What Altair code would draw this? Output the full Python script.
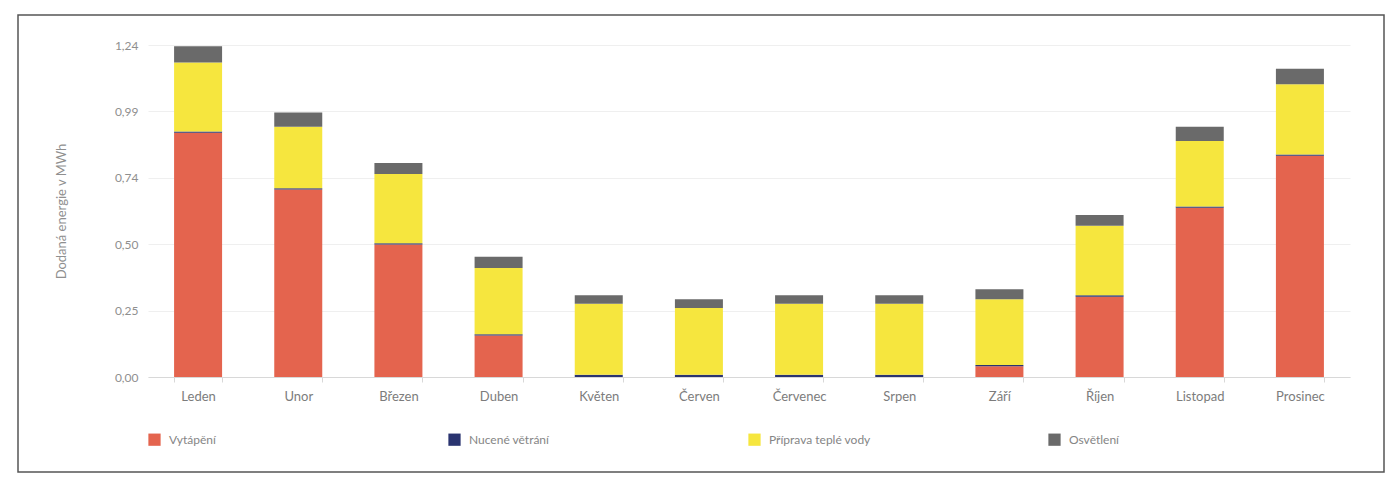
import altair as alt
import pandas as pd

months = ["Leden", "Unor", "Březen", "Duben", "Květen", "Červen",
          "Červenec", "Srpen", "Září", "Říjen", "Listopad", "Prosinec"]
series = ["Vytápění", "Nucené větrání", "Příprava teplé vody", "Osvětlení"]
colors = ["#E4644E", "#2A3470", "#F6E63E", "#6A6A6A"]

heating = [0.912, 0.700, 0.495, 0.155, 0.0, 0.0, 0.0, 0.0, 0.040, 0.300, 0.632, 0.826]
ventilation = [0.005, 0.005, 0.005, 0.005, 0.008, 0.008, 0.008, 0.008, 0.005, 0.005, 0.005, 0.005]
hot_water = [0.258, 0.230, 0.258, 0.247, 0.266, 0.250, 0.266, 0.266, 0.245, 0.260, 0.244, 0.262]
lighting = [0.060, 0.053, 0.041, 0.042, 0.031, 0.032, 0.031, 0.031, 0.038, 0.040, 0.054, 0.058]

y_ticks = [0, 0.248, 0.496, 0.744, 0.992, 1.24]

rows = []
for i, m in enumerate(months):
    for k, (s, vals) in enumerate(zip(series, [heating, ventilation, hot_water, lighting])):
        rows.append({"month": m, "series": s, "value": vals[i], "order": k})
df = pd.DataFrame(rows)

FONT = "Lato"
W, H = 1202, 332

bars = alt.Chart(df).mark_bar(size=48).encode(
    x=alt.X("month:N", sort=months, title=None,
            scale=alt.Scale(paddingInner=0.52, paddingOuter=0.26),
            axis=alt.Axis(labelAngle=0, labelFontSize=13, labelColor="#7c7c7c",
                          labelFont=FONT, tickBand="extent", tickColor="#d8d8d8",
                          tickSize=5, domainColor="#d8d8d8", labelPadding=8)),
    y=alt.Y("value:Q", stack="zero", title="Dodaná energie v MWh",
            scale=alt.Scale(domain=[0, 1.24], nice=False),
            axis=alt.Axis(values=y_ticks,
                          labelExpr="replace(format(datum.value, '.2f'), '.', ',')",
                          labelFontSize=12, labelColor="#8f8f8f", labelFont=FONT,
                          domain=False, ticks=False, labelPadding=10,
                          gridColor="#efefef", titleFont=FONT, titleFontSize=13,
                          titleFontWeight="normal", titleColor="#8f8f8f",
                          titlePadding=46)),
    color=alt.Color("series:N", sort=series,
                    scale=alt.Scale(domain=series, range=colors),
                    legend=alt.Legend(title=None, orient="none", legendX=0, legendY=388,
                                      direction="horizontal", columns=4,
                                      gridAlign="all", columnPadding=177,
                                      symbolType="square", symbolSize=150,
                                      symbolStrokeWidth=0, labelFont=FONT,
                                      labelFontSize=12, labelColor="#858585",
                                      labelOffset=8)),
    order=alt.Order("order:Q"),
)

frame = alt.Chart(pd.DataFrame({"a": [0]})).mark_rect(
    fill=None, stroke="#555555", strokeWidth=1.5
).encode(
    x=alt.value(-130), x2=alt.value(1236), y=alt.value(-30), y2=alt.value(427)
)

chart = alt.layer(bars, frame).properties(
    width=W, height=H,
    padding={"left": 148, "top": 45, "right": 44, "bottom": 103},
    autosize=alt.AutoSizeParams(type="none"),
    background="white",
).configure_view(stroke=None)

chart.save("out.html", embed_options={"renderer": "svg", "actions": False})
